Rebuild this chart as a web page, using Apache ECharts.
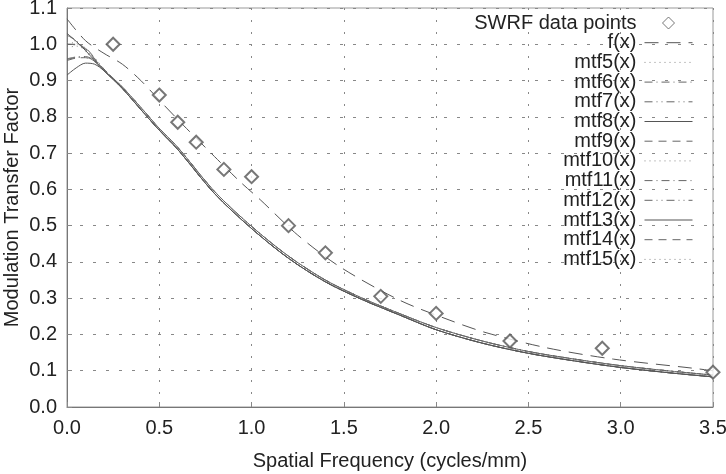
<!DOCTYPE html>
<html>
<head>
<meta charset="utf-8">
<script src="https://cdn.jsdelivr.net/npm/echarts@6/dist/echarts.min.js"></script>
<style>
  html, body { margin: 0; padding: 0; background: #fff; }
  #main { width: 726px; height: 474px; }
</style>
</head>
<body>
<div id="main"></div>
<script>
// measured SWRF points
var swrfX = [0.25, 0.5, 0.6, 0.7, 0.85, 1.0, 1.2, 1.4, 1.7, 2.0, 2.4, 2.9, 3.5];
var swrfY = [1.0, 0.86, 0.785, 0.73, 0.655, 0.635, 0.5, 0.425, 0.305, 0.258, 0.182, 0.162, 0.096];

// fitted f(x)
var fitX = [0.0, 0.1, 0.2, 0.3, 0.4, 0.5, 0.63, 0.8, 0.94, 1.05, 1.25, 1.48, 1.8, 2.07, 2.27, 2.6, 2.96, 3.39, 3.5];
var fitY = [1.07, 1.01, 0.975, 0.945, 0.9, 0.846, 0.777, 0.69, 0.62, 0.57, 0.474, 0.386, 0.295, 0.24, 0.205, 0.163, 0.132, 0.107, 0.1];

// mtf curves: same x grid, individual start, shared tails
var mtfX = [0.0, 0.05, 0.1, 0.15, 0.2, 0.3, 0.4, 0.5, 0.6, 0.8, 1.0, 1.2, 1.4, 1.6, 1.8, 2.0, 2.25, 2.5, 2.75, 3.0, 3.25, 3.5];
var tailA = [0.878, 0.82, 0.763, 0.71, 0.588, 0.492, 0.41, 0.345, 0.296, 0.254, 0.213, 0.176, 0.148, 0.127, 0.109, 0.095, 0.083];
var tailB = [0.882, 0.826, 0.768, 0.716, 0.594, 0.498, 0.416, 0.35, 0.3, 0.258, 0.219, 0.182, 0.153, 0.132, 0.114, 0.1, 0.088];

var mtfNames = ["mtf5(x)", "mtf6(x)", "mtf7(x)", "mtf8(x)", "mtf9(x)", "mtf10(x)", "mtf11(x)", "mtf12(x)", "mtf13(x)", "mtf14(x)", "mtf15(x)"];
var mtfHeads = [
    [1.03, 1.005, 0.98, 0.955, 0.928],
    [1.025, 1.01, 0.985, 0.958, 0.93],
    [1.0, 1.0, 0.99, 0.962, 0.932],
    [1.03, 1.008, 0.983, 0.955, 0.927],
    [1.0, 0.998, 0.988, 0.96, 0.93],
    [0.99, 0.995, 0.985, 0.96, 0.93],
    [0.96, 0.965, 0.966, 0.955, 0.93],
    [0.958, 0.963, 0.965, 0.953, 0.928],
    [0.915, 0.935, 0.948, 0.945, 0.927],
    [0.955, 0.962, 0.963, 0.952, 0.928],
    [1.005, 1.002, 0.99, 0.962, 0.932]
];
var mtfTails = [tailB, tailA, tailB, tailA, tailB, tailA, tailB, tailA, tailA, tailB, tailB];

var xTicks = [0.0, 0.5, 1.0, 1.5, 2.0, 2.5, 3.0, 3.5];
var yTicks = [0.0, 0.1, 0.2, 0.3, 0.4, 0.5, 0.6, 0.7, 0.8, 0.9, 1.0, 1.1];

var dotted = [1, 4];
var dashDot = [8, 4, 1, 4];
var dashDotDot = [8, 4, 1, 4, 1, 4];
var dashed = [8, 6];
var mtfDash = [dotted, dashDot, dashDotDot, 'solid', dashed, dotted, dashDot, dashDotDot, 'solid', dashed, dotted];
var mtfColor = ['#888', '#666', '#666', '#555', '#666', '#888', '#666', '#666', '#555', '#666', '#888'];

function pairs(xs, ys) {
    var out = [];
    for (var i = 0; i < xs.length; i++) {
        out.push([xs[i], ys[i]]);
    }
    return out;
}

var series = [];
series.push({
    name: 'SWRF data points',
    type: 'scatter',
    symbol: 'emptyDiamond',
    symbolSize: 13,
    z: 5,
    itemStyle: { color: '#555', borderColor: '#555', borderWidth: 1 },
    data: pairs(swrfX, swrfY)
});
series.push({
    name: 'f(x)',
    type: 'line',
    symbol: 'none',
    smooth: 0.3,
    itemStyle: { color: 'rgba(0,0,0,0)' },
    lineStyle: { color: '#555', width: 1, type: [14, 8] },
    data: pairs(fitX, fitY)
});
for (var k = 0; k < mtfNames.length; k++) {
    series.push({
        name: mtfNames[k],
        type: 'line',
        symbol: 'none',
        smooth: 0.3,
        itemStyle: { color: 'rgba(0,0,0,0)' },
        lineStyle: { color: mtfColor[k], width: 1, type: mtfDash[k] },
        data: pairs(mtfX, mtfHeads[k].concat(mtfTails[k]))
    });
}

// legend entries: diamond icon for the points, bare line samples for curves
var legendData = [{
    name: 'SWRF data points',
    icon: 'path://M0,1L1,0L2,1L1,2Z',
    itemStyle: { color: '#fff', borderColor: '#555', borderWidth: 1 }
}];
var lineNames = ['f(x)'].concat(mtfNames);
for (var j = 0; j < lineNames.length; j++) {
    legendData.push({ name: lineNames[j], itemStyle: { opacity: 0 } });
}

var font = '"Liberation Sans", Arial, sans-serif';
var myChart = echarts.init(document.getElementById('main'));
var option = {
    animation: false,
    backgroundColor: '#fff',
    textStyle: { fontFamily: font },
    grid: {
        left: 67,
        right: 13,
        top: 8,
        bottom: 67,
        outerBoundsMode: 'none',
        show: true,
        borderColor: '#999',
        borderWidth: 1
    },
    legend: {
        data: legendData,
        orient: 'vertical',
        align: 'right',
        right: 33,
        top: 13,
        padding: 0,
        itemGap: -0.3,
        itemWidth: 48,
        itemHeight: 12,
        symbolKeepAspect: true,
        lineStyle: { width: 1 },
        textStyle: {
            fontFamily: font,
            fontSize: 20,
            lineHeight: 18,
            color: '#222',
            padding: [0, 3, 0, 0]
        }
    },
    xAxis: {
        type: 'value',
        min: xTicks[0],
        max: xTicks[xTicks.length - 1],
        interval: 0.5,
        name: 'Spatial Frequency (cycles/mm)',
        nameLocation: 'middle',
        nameGap: 44,
        nameMoveOverlap: false,
        nameTextStyle: { fontFamily: font, fontSize: 20, color: '#222' },
        axisLine: { show: true, lineStyle: { color: '#777', width: 1 } },
        axisTick: { show: true, inside: true, length: 5, lineStyle: { color: '#888' } },
        axisLabel: {
            fontFamily: font, fontSize: 20, color: '#222', margin: 11,
            formatter: function(v) { return v.toFixed(1); }
        },
        splitLine: { show: true, lineStyle: { color: '#888', width: 1, type: [2, 10] } }
    },
    yAxis: {
        type: 'value',
        min: yTicks[0],
        max: yTicks[yTicks.length - 1],
        interval: 0.1,
        name: 'Modulation Transfer Factor',
        nameLocation: 'middle',
        nameGap: 45,
        nameMoveOverlap: false,
        nameTextStyle: { fontFamily: font, fontSize: 20, color: '#222' },
        axisLine: { show: true, lineStyle: { color: '#777', width: 1 } },
        axisTick: { show: true, inside: true, length: 5, lineStyle: { color: '#888' } },
        axisLabel: {
            fontFamily: font, fontSize: 20, color: '#222', margin: 10,
            formatter: function(v) { return v.toFixed(1); }
        },
        splitLine: { show: true, lineStyle: { color: '#888', width: 1, type: [3, 10] } }
    },
    series: series
};
myChart.setOption(option);
</script>
</body>
</html>
